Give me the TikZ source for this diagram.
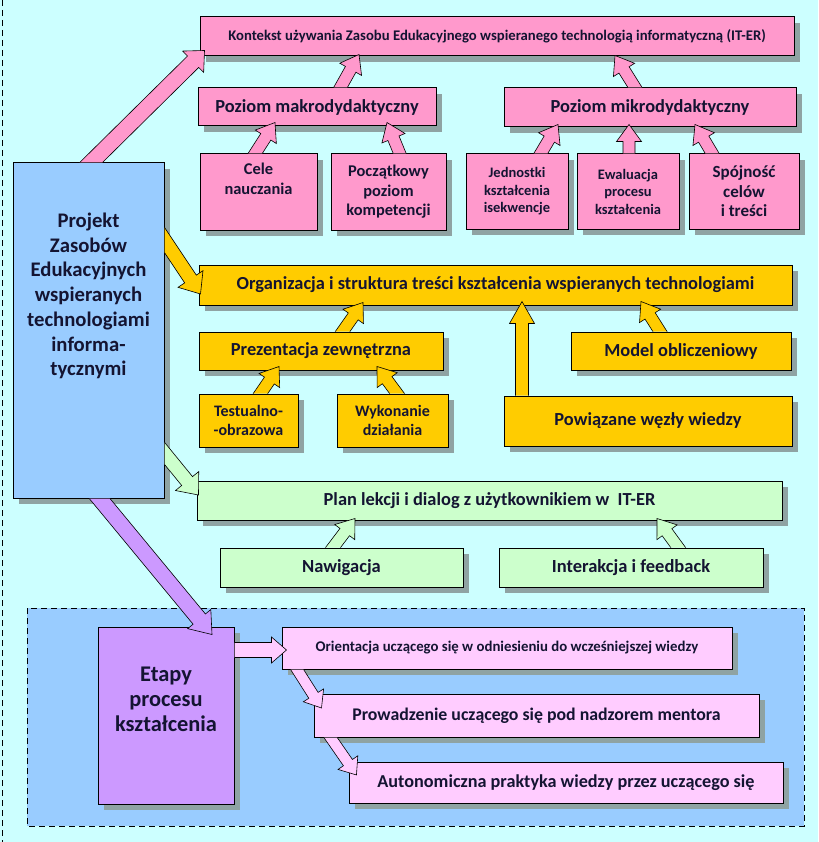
\documentclass[tikz,border=0pt]{standalone}
\usepackage{fontspec}
\setmainfont{Carlito}
\usetikzlibrary{calc,shadows}
\definecolor{bgc}{HTML}{CCFFFF}
\definecolor{pinkc}{HTML}{FF99CC}
\definecolor{bluec}{HTML}{99CCFF}
\definecolor{yelc}{HTML}{FFCC00}
\definecolor{grnc}{HTML}{CCFFCC}
\definecolor{purc}{HTML}{CC99FF}
\definecolor{lpinkc}{HTML}{FFCCFF}
\definecolor{shadc}{HTML}{8FA3A3}
\definecolor{txtc}{HTML}{141432}
\newcommand\fs[2]{\fontsize{#1}{#2}\selectfont\bfseries}
\tikzset{
  bx/.style={draw=black, line width=1pt, rectangle, align=center, inner sep=1pt, text=txtc,
    drop shadow={shadow xshift=6pt, shadow yshift=-6pt, fill=shadc, opacity=1}},
  txt/.style={align=center, inner sep=0pt, text=txtc},
  fat/.style={draw=black, line width=0.6pt, line join=miter},
}
% #1 source node, #2 from, #3 to, #4 colour, #5 shaft half width, #6 head half width, #7 head length
\newcommand\blockarrow[7]{%
  \begin{scope}
    \clip (-20,-20) -- (840,-20) -- (840,860) -- (-20,860) -- cycle
          (#1.north west) -- (#1.south west) -- (#1.south east) -- (#1.north east) -- cycle;
    \path[fat, fill=#4] let \p1=(#2), \p2=(#3), \n1={atan2(\y2-\y1,\x2-\x1)}, \n2={veclen(\x2-\x1,\y2-\y1)} in
      [shift={(\p1)}, rotate=\n1] (0,#5) -- (\n2-#7,#5) -- (\n2-#7,#6) -- (\n2,0) -- (\n2-#7,-#6) -- (\n2-#7,-#5) -- (0,-#5) -- cycle;
  \end{scope}}
\begin{document}
\begin{tikzpicture}[x=1pt,y=-1pt]
\fill[bgc] (0,0) rectangle (818,842);
\useasboundingbox (0,0) rectangle (818,842);
\draw[dashed, line width=0.8pt, dash pattern=on 6pt off 4pt] (2,0) -- (2,842);
\draw[fill=bluec, dashed, line width=0.8pt, dash pattern=on 6pt off 4pt] (27,608) rectangle (804,826);

% top: pink
\node[bx, fill=pinkc, minimum width=594pt, minimum height=39pt, font=\fs{14.7}{17}] (kont) at (497,36.5)
  {Kontekst używania Zasobu Edukacyjnego wspieranego technologią informatyczną (IT-ER)};
\node[bx, fill=pinkc, minimum width=238pt, minimum height=38pt, font=\fs{18.4}{21}] (makro) at (317,107) {Poziom makrodydaktyczny};
\node[bx, fill=pinkc, minimum width=292pt, minimum height=39pt, font=\fs{18.4}{21}] (mikro) at (650,107.5) {Poziom mikrodydaktyczny};
\node[bx, fill=pinkc, minimum width=117pt, minimum height=76pt, font=\fs{16.4}{20}] (cele) at (258.5,192) {Cele\\nauczania\\\strut};
\node[bx, fill=pinkc, minimum width=115pt, minimum height=76pt, font=\fs{16.4}{19.5}] (pocz) at (388.5,192) {Początkowy\\poziom\\kompetencji};
\node[bx, fill=pinkc, minimum width=102pt, minimum height=75pt, font=\fs{14.5}{17.5}] (jedn) at (517,191.5) {Jednostki\\kształcenia\\isekwencje};
\node[bx, fill=pinkc, minimum width=102pt, minimum height=75pt, font=\fs{14.5}{17.5}] (ewal) at (628,191.5) {Ewaluacja\\procesu\\kształcenia};
\node[bx, fill=pinkc, minimum width=110pt, minimum height=75pt, font=\fs{17}{19.5}] (spoj) at (744,191.5) {Spójność\\celów\\i treści};

% left blue
\node[bx, fill=bluec, minimum width=151pt, minimum height=335pt] (proj) at (88.5,330.5) {};
\node[txt, font=\fs{20.7}{24.7}] (projtxt) at (88.5,296) {Projekt\\Zasobów\\Edukacyjnych\\wspieranych\\technologiami\\informa-\\tycznymi};

% yellow
\node[bx, fill=yelc, minimum width=593pt, minimum height=40pt, font=\fs{18.4}{21}] (org) at (495.5,285)
  {Organizacja i struktura treści kształcenia wspieranych technologiami};
\node[bx, fill=yelc, minimum width=244pt, minimum height=38pt, font=\fs{18.4}{21}] (prez) at (321,351) {Prezentacja zewnętrzna};
\node[bx, fill=yelc, minimum width=220pt, minimum height=38pt, font=\fs{18.4}{21}] (model) at (681,351) {Model obliczeniowy};
\node[bx, fill=yelc, minimum width=99pt, minimum height=53pt, font=\fs{16}{18.5}] (test) at (248.5,420.5) {Testualno-\\-obrazowa};
\node[bx, fill=yelc, minimum width=111pt, minimum height=53pt, font=\fs{16}{18.5}] (wyk) at (392.5,420.5) {Wykonanie\\działania};
\node[bx, fill=yelc, minimum width=288pt, minimum height=50pt, font=\fs{18.4}{21}] (pow) at (648,421) {Powiązane węzły wiedzy};

% green
\node[bx, fill=grnc, minimum width=585pt, minimum height=39pt, font=\fs{18.4}{21}] (plan) at (489.5,500.5)
  {Plan lekcji i dialog z użytkownikiem w\ \ IT-ER};
\node[bx, fill=grnc, minimum width=243pt, minimum height=39pt, font=\fs{18.5}{21}] (naw) at (341.5,567.5) {Nawigacja};
\node[bx, fill=grnc, minimum width=264pt, minimum height=39pt, font=\fs{18.5}{21}] (inter) at (631,567.5) {Interakcja i feedback};

% bottom
\node[bx, fill=purc, minimum width=136pt, minimum height=177pt, font=\fs{22.4}{25}] (etapy) at (166,715.5) {Etapy\\procesu\\kształcenia\\\strut};
\node[bx, fill=lpinkc, minimum width=450pt, minimum height=42pt, font=\fs{14.8}{17}] (orient) at (507,648)
  {Orientacja uczącego się w odniesieniu do wcześniejszej wiedzy};
\node[bx, fill=lpinkc, minimum width=445pt, minimum height=43pt, font=\fs{17.8}{20}] (prow) at (536.5,715.5)
  {Prowadzenie uczącego się pod nadzorem mentora};
\node[bx, fill=lpinkc, minimum width=434pt, minimum height=41pt, font=\fs{18.2}{20}] (auto) at (566,782.5)
  {Autonomiczna praktyka wiedzy przez uczącego się};

% arrows
\blockarrow{proj}{$(proj.north)+(-5.5,8)$}{$(kont.south west)+(5,-6)$}{pinkc}{8}{15}{16}
\blockarrow{makro}{$(makro.north)+(19,8)$}{$(kont.south)+(-138,-2)$}{pinkc}{6}{12.5}{17}
\blockarrow{mikro}{$(mikro.north)+(-10,8)$}{$(kont.south)+(118,-1)$}{pinkc}{6}{12.5}{17}
\blockarrow{cele}{$(cele.north)+(-8.5,8)$}{$(makro.south)+(-42,-4)$}{pinkc}{6}{12.5}{17}
\blockarrow{pocz}{$(pocz.north)+(14.5,8)$}{$(makro.south)+(70,-4)$}{pinkc}{6}{12.5}{17}
\blockarrow{jedn}{$(jedn.north)+(19,8)$}{$(mikro.south)+(-92,-3)$}{pinkc}{6}{12.5}{17}
\blockarrow{ewal}{$(ewal.north)+(1,8)$}{$(mikro.south)+(-21,-3)$}{pinkc}{6}{12.5}{17}
\blockarrow{spoj}{$(spoj.north)+(-27,8)$}{$(mikro.south)+(45,-3)$}{pinkc}{6}{12.5}{17}

\blockarrow{proj}{$(proj.east)+(-6,-99.5)$}{$(org.west)+(2,9)$}{yelc}{7}{15}{18}
\blockarrow{prez}{$(prez.north)+(16,8)$}{$(org.south)+(-132.5,-3)$}{yelc}{6}{12.5}{17}
\blockarrow{test}{$(test.north)+(6.5,8)$}{$(prez.south)+(-42,-4)$}{yelc}{6}{12.5}{17}
\blockarrow{wyk}{$(wyk.north)+(10.5,8)$}{$(prez.south)+(56,-4)$}{yelc}{6}{12.5}{17}
\blockarrow{pow}{$(pow.north)+(-126,8)$}{$(org.south)+(26.5,-4)$}{yelc}{6.5}{12.5}{22}
\blockarrow{model}{$(model.north)+(-16,8)$}{$(org.south)+(145.5,-4)$}{yelc}{6}{12.5}{17}

\blockarrow{proj}{$(proj.east)+(-6,115.5)$}{$(plan.west)+(2,-5.5)$}{grnc}{7}{15}{18}
\blockarrow{naw}{$(naw.north)+(-14.5,8)$}{$(plan.south)+(-134.5,-2)$}{grnc}{6}{12.5}{17}
\blockarrow{inter}{$(inter.north)+(53,8)$}{$(plan.south)+(167.5,-2)$}{grnc}{6}{12.5}{17}

\blockarrow{proj}{$(proj.south)+(4.5,-8)$}{$(etapy.north)+(46,8)$}{purc}{8}{15}{20}
\blockarrow{etapy}{$(etapy.east)+(-8,-65.5)$}{$(orient.west)+(5,2)$}{lpinkc}{7.5}{13}{15}
\blockarrow{orient}{$(orient.south)+(-215,-8)$}{$(prow.west)+(8,-7.5)$}{lpinkc}{5.5}{12}{15}
\blockarrow{prow}{$(prow.south)+(-211.5,-8)$}{$(auto.west)+(8,-7.5)$}{lpinkc}{5.5}{12}{15}
\end{tikzpicture}
\end{document}
